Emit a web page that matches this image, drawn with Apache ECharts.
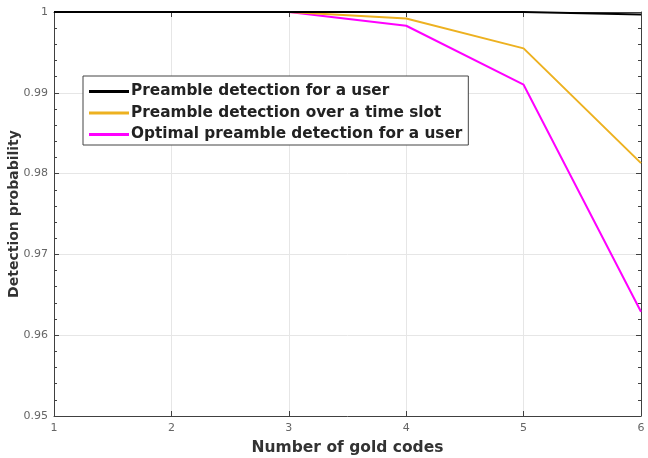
<!DOCTYPE html>
<html>
<head>
<meta charset="utf-8">
<script src="https://cdn.jsdelivr.net/npm/echarts@6/dist/echarts.min.js"></script>
<style>
  html, body { margin: 0; padding: 0; background: #fff; }
  #chart { width: 648px; height: 458px; }
</style>
</head>
<body>
<div id="chart"></div>
<script>
// gold codes on the x axis
const goldCodes = [1, 2, 3, 4, 5, 6];
// detection probabilities
const userDetect = [1, 1, 1, 1, 1, 0.9997];
const slotDetect = [1, 1, 1, 0.9992, 0.9955, 0.9813];
const optimalDetect = [1, 1, 1, 0.9983, 0.9910, 0.9629];
const seriesNames = [
  'Preamble detection for a user',
  'Preamble detection over a time slot',
  'Optimal preamble detection for a user'
];
const lineColors = ['#000000', '#EDB120', '#FF00FF'];

const pairs = (ys) => goldCodes.map((x, i) => [x, ys[i]]);

const myChart = echarts.init(document.getElementById('chart'));

const axisLineStyle = { color: '#404040', width: 1 };
const boxAxis = (pos, isX) => ({
  type: 'value',
  position: pos,
  min: isX ? 1 : 0.95,
  max: isX ? 6 : 1,
  interval: isX ? 1 : 0.01,
  axisLine: { show: true, onZero: false, lineStyle: axisLineStyle },
  axisTick: { show: true, inside: true, length: 5, lineStyle: axisLineStyle },
  minorTick: isX ? { show: false } : { show: true, splitNumber: 5, length: 3, lineStyle: axisLineStyle },
  axisLabel: { show: false },
  splitLine: { show: false }
});

const option = {
  animation: false,
  color: lineColors,
  grid: { left: 54, right: 7, top: 12, bottom: 42, containLabel: false, outerBoundsMode: 'none' },
  legend: {
    orient: 'vertical',
    left: 83,
    top: 76,
    padding: [8, 6, 3, 6],
    itemGap: 6.5,
    itemWidth: 40,
    itemHeight: 3,
    icon: 'rect',
    backgroundColor: '#ffffff',
    borderColor: '#444444',
    borderWidth: 1,
    textStyle: {
      fontFamily: 'DejaVu Sans',
      fontWeight: 'bold',
      fontSize: 15.3,
      color: '#222222',
      padding: [0, 0, 0, -3]
    },
    data: seriesNames
  },
  xAxis: [
    {
      type: 'value',
      min: 1,
      max: 6,
      interval: 1,
      name: 'Number of gold codes',
      nameLocation: 'middle',
      nameGap: 24,
      nameTextStyle: {
        fontFamily: 'DejaVu Sans',
        fontWeight: 'bold',
        fontSize: 15.5,
        color: '#333333'
      },
      axisLine: { show: true, onZero: false, lineStyle: axisLineStyle },
      axisTick: { show: true, inside: true, length: 5, lineStyle: axisLineStyle },
      axisLabel: {
        margin: 7,
        fontFamily: 'DejaVu Sans',
        fontSize: 11,
        color: '#666666'
      },
      splitLine: { show: true, lineStyle: { color: '#e6e6e6', width: 1 } }
    },
    boxAxis('top', true)
  ],
  yAxis: [
    {
      type: 'value',
      min: 0.95,
      max: 1,
      interval: 0.01,
      name: 'Detection probability',
      nameLocation: 'middle',
      nameGap: 33,
      nameMoveOverlap: false,
      nameTextStyle: {
        fontFamily: 'DejaVu Sans',
        fontWeight: 'bold',
        fontSize: 14,
        color: '#333333'
      },
      axisLine: { show: true, onZero: false, lineStyle: axisLineStyle },
      axisTick: { show: true, inside: true, length: 5, lineStyle: axisLineStyle },
      minorTick: { show: true, splitNumber: 5, length: 3, lineStyle: axisLineStyle },
      axisLabel: {
        margin: 6,
        fontFamily: 'DejaVu Sans',
        fontSize: 11,
        color: '#666666',
        formatter: (v) => (Math.round(v * 100) / 100).toString()
      },
      splitLine: { show: true, lineStyle: { color: '#e6e6e6', width: 1 } }
    },
    boxAxis('right', false)
  ],
  series: [
    { name: seriesNames[0], type: 'line', data: pairs(userDetect), showSymbol: false, z: 5,
      lineStyle: { width: 2, color: lineColors[0] } },
    { name: seriesNames[1], type: 'line', data: pairs(slotDetect), showSymbol: false, z: 4,
      lineStyle: { width: 2, color: lineColors[1] } },
    { name: seriesNames[2], type: 'line', data: pairs(optimalDetect), showSymbol: false, z: 3,
      lineStyle: { width: 2, color: lineColors[2] } }
  ]
};

myChart.setOption(option);
</script>
</body>
</html>
